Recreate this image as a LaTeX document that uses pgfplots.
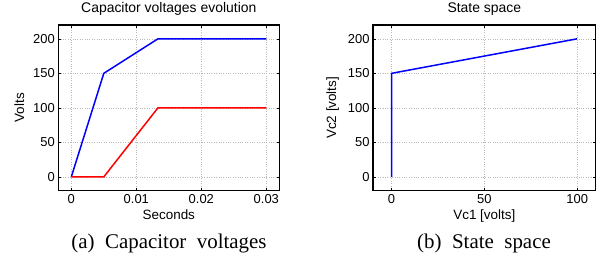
\documentclass[border=0pt]{standalone}
\usepackage{fontspec}
\setmainfont{Liberation Serif}
\newfontfamily\hv{Liberation Sans}
\usepackage{pgfplots}
\pgfplotsset{compat=1.18}
\begin{document}
\begin{tikzpicture}[x=1bp,y=1bp]
\useasboundingbox (0,0) rectangle (608,264);
\pgfplotsset{
  mystyle/.style={
    scale only axis,
    height=165.7bp,
    ymin=-20, ymax=220,
    ytick={0,50,100,150,200},
    grid=major,
    major grid style={dotted, gray!55, line width=0.6pt},
    axis line style={black, line width=1.1pt},
    tick align=inside,
    major tick length=2.5bp,
    tick style={black, line width=0.5pt},
    scaled x ticks=false,
    /pgf/number format/assume math mode=true,
    ticklabel style={font=\hv\fontsize{13}{15}\selectfont},
    label style={font=\hv\fontsize{13.5}{15}\selectfont},
    title style={font=\hv\fontsize{14}{16}\selectfont, at={(0.5,1)}, anchor=base, yshift=7bp},
    xlabel style={at={(0.5,0)}, anchor=base, yshift=-28.3bp},
    ylabel style={yshift=2bp},
    every axis plot/.append style={line width=1.5bp},
  }
}
\begin{axis}[mystyle,
  at={(58.3bp,73.3bp)}, anchor=south west,
  width=221bp,
  xmin=-0.002, xmax=0.032,
  xtick={0,0.01,0.02,0.03},
  xticklabels={0,0.01,0.02,0.03},
  title={Capacitor voltages evolution},
  xlabel={Seconds}, ylabel={Volts},
]
\addplot[blue] coordinates {(0,0) (0.005,150) (0.01333,200) (0.03,200)};
\addplot[red] coordinates {(0,0) (0.005,0) (0.01333,100) (0.03,100)};
\end{axis}
\begin{axis}[mystyle,
  at={(373bp,73.3bp)}, anchor=south west,
  width=222.7bp,
  xmin=-10, xmax=110,
  xtick={0,50,100},
  title={State space},
  xlabel={Vc1 [volts]}, ylabel={Vc2 [volts]},
]
\addplot[blue] coordinates {(0,0) (0,150) (100,200)};
\end{axis}
\node[anchor=base, font=\fontsize{21}{26}\selectfont] at (169,15.3) {(a)\ \ Capacitor\ \ voltages};
\node[anchor=base, font=\fontsize{21}{26}\selectfont] at (484,15.3) {(b)\ \ State\ \ space};
\end{tikzpicture}
\end{document}
